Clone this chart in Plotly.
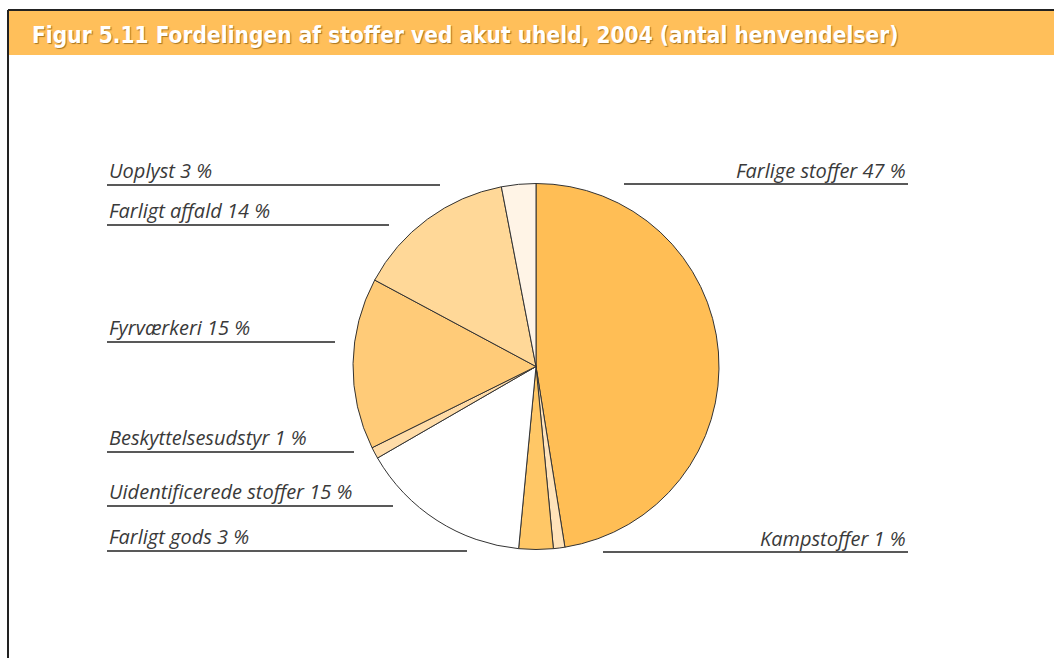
import plotly.graph_objects as go

W, H = 1054, 658

categories = ["Farlige stoffer", "Kampstoffer", "Farligt gods", "Uidentificerede stoffer",
              "Beskyttelsesudstyr", "Fyrværkeri", "Farligt affald", "Uoplyst"]
values = [47, 1, 3, 15, 1, 15, 14, 3]
colors = ["#FFBE55", "#FFE3BA", "#FFC766", "#FFFFFF", "#FFDCA8", "#FFCB78", "#FFD898", "#FFF4E6"]
title_text = "Figur 5.11 Fordelingen af stoffer ved akut uheld, 2004 (antal henvendelser)"

# label layout: (x_text, y_text_center, anchor, line_x0, line_x1, line_y)
label_layout = {
    "Uoplyst": (107, 170, "left", 107, 440, 185),
    "Farligt affald": (107, 211, "left", 107, 389, 225),
    "Fyrværkeri": (107, 327, "left", 107, 335, 342),
    "Beskyttelsesudstyr": (107, 437, "left", 107, 354, 452),
    "Uidentificerede stoffer": (107, 491, "left", 107, 393, 506),
    "Farligt gods": (107, 536, "left", 107, 467, 551),
    "Farlige stoffer": (908, 170, "right", 624, 908, 184),
    "Kampstoffer": (908, 538, "right", 603, 908, 552),
}

def px(x):
    return x / W

def py(y):
    return 1 - y / H

cx, cy, r = 536, 366.5, 183

fig = go.Figure()
fig.add_trace(go.Pie(
    labels=categories, values=values, sort=False, direction="clockwise", rotation=0,
    marker=dict(colors=colors, line=dict(color="#333333", width=1)),
    textinfo="none", hoverinfo="label+percent", showlegend=False,
    domain=dict(x=[px(cx - r), px(cx + r)], y=[py(cy + r), py(cy - r)]),
))

shapes = []
annotations = []
# frame and title bar
shapes.append(dict(type="rect", xref="paper", yref="paper", x0=px(8), x1=px(1054), y0=py(55), y1=py(11),
                   fillcolor="#FFBF5A", line=dict(width=0), layer="below"))
shapes.append(dict(type="line", xref="paper", yref="paper", x0=px(8), x1=px(1054), y0=py(10), y1=py(10),
                   line=dict(color="#222222", width=2)))
shapes.append(dict(type="line", xref="paper", yref="paper", x0=px(8), x1=px(8), y0=py(10), y1=py(658),
                   line=dict(color="#222222", width=2)))
annotations.append(dict(x=px(30), y=py(35), xref="paper", yref="paper", xanchor="left", yanchor="middle",
                        text=title_text, showarrow=False,
                        font=dict(family="DejaVu Sans Condensed", size=22.5, color="white", weight="bold",
                                  shadow="1px 1px 1px #A87420")))

for cat, v in zip(categories, values):
    xt, yt, anc, lx0, lx1, ly = label_layout[cat]
    annotations.append(dict(x=px(xt), y=py(yt), xref="paper", yref="paper", xanchor=anc, yanchor="middle",
                            text=f"{cat} {v} %", showarrow=False,
                            font=dict(family="Open Sans", size=20, color="#3a3a3a", style="italic")))
    shapes.append(dict(type="line", xref="paper", yref="paper", x0=px(lx0), x1=px(lx1), y0=py(ly), y1=py(ly),
                       line=dict(color="#222222", width=1.5)))

fig.update_layout(width=W, height=H, margin=dict(l=0, r=0, t=0, b=0),
                  paper_bgcolor="white", plot_bgcolor="white",
                  shapes=shapes, annotations=annotations)
fig.write_html("out.html", config={"displayModeBar": False},
               post_script="document.body.style.margin='0';document.body.style.overflow='hidden';")
